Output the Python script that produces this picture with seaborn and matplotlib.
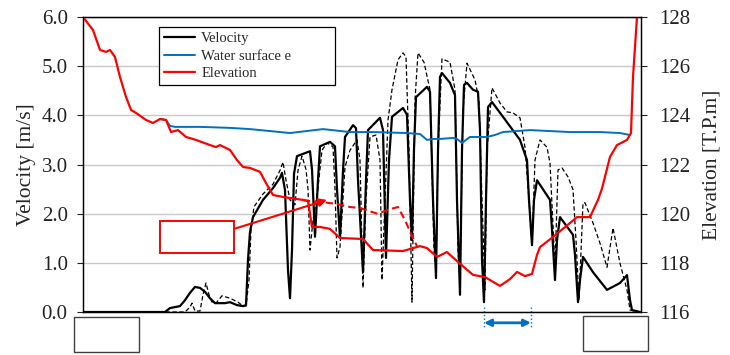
import matplotlib
matplotlib.use("Agg")
import matplotlib.pyplot as plt
import seaborn as sns
import pandas as pd
from matplotlib.patches import Rectangle
from matplotlib.lines import Line2D

sns.set_style("ticks")
plt.rcParams['font.family'] = ['Liberation Serif', 'DejaVu Serif']

# ---- data (x: relative position along channel) ----
vel_x = [0, 82, 87, 92, 97, 102, 107, 112, 117, 122, 127, 132, 137, 142, 147, 154, 160, 163,
         165, 167, 170, 180, 190, 197, 199, 202, 205, 207, 209, 211, 214, 227, 229, 232, 235,
         237, 247, 252, 254, 257, 260, 262, 270, 273, 275, 280, 283, 285, 297, 300, 303, 306,
         309, 320, 324, 327, 329, 331, 333, 344, 347, 350, 353, 355, 357, 359, 367, 372, 374,
         377, 379, 381, 384, 390, 395, 397, 399, 401, 403, 405, 409, 420, 437, 444, 446, 449,
         451, 454, 467, 469, 472, 474, 477, 490, 492, 495, 497, 500, 510, 524, 537, 544, 547,
         549, 557]
vel = [0, 0, 0.08, 0.10, 0.12, 0.24, 0.39, 0.51, 0.49, 0.41, 0.28, 0.18, 0.18, 0.18, 0.20,
       0.14, 0.12, 0.14, 1.06, 1.63, 1.93, 2.28, 2.52, 2.73, 2.83, 2.48, 0.85, 0.28, 1.26, 2.81,
       3.17, 3.27, 2.90, 1.53, 2.68, 3.37, 3.46, 3.37, 2.50, 1.51, 2.87, 3.56, 3.80, 3.74, 2.68,
       0.81, 2.68, 3.70, 3.95, 3.70, 1.10, 3.09, 3.97, 4.15, 4.01, 2.28, 1.46, 3.31, 4.37, 4.58,
       4.48, 2.28, 0.69, 3.29, 4.78, 4.86, 4.66, 4.41, 2.28, 0.35, 3.29, 4.62, 4.66, 4.52, 4.48,
       3.70, 1.06, 0.20, 2.28, 4.17, 4.27, 3.97, 3.50, 3.09, 2.28, 1.36, 2.28, 2.68, 2.28, 1.68,
       0.65, 1.46, 1.93, 1.57, 1.16, 0.20, 0.65, 1.12, 0.81, 0.45, 0.59, 0.75, 0.24, 0.04, 0]

vel2_x = [0, 102, 107, 109, 112, 117, 120, 123, 126, 129, 133, 139, 147, 155, 160, 163, 166,
          168, 171, 180, 190, 197, 200, 203, 207, 212, 215, 219, 223, 225, 227, 230, 234, 239,
          244, 250, 252, 254, 257, 262, 267, 274, 277, 280, 283, 287, 293, 297, 299, 302, 305,
          309, 315, 320, 323, 326, 329, 332, 335, 341, 347, 351, 353, 355, 359, 367, 372, 375,
          377, 380, 384, 392, 396, 399, 402, 404, 409, 417, 424, 430, 437, 442, 447, 449, 452,
          457, 464, 467, 472, 475, 479, 485, 490, 493, 496, 500, 502, 510, 517, 524, 530, 537,
          544, 547, 557]
vel2 = [0, 0, 0.10, 0.18, 0.02, 0.02, 0.35, 0.59, 0.35, 0.20, 0.18, 0.33, 0.28, 0.20, 0.12,
        0.12, 0.65, 1.67, 2.14, 2.40, 2.60, 2.88, 3.05, 2.68, 2.28, 2.18, 2.88, 3.17, 2.90, 2.50,
        1.26, 1.87, 2.34, 3.29, 3.44, 3.36, 2.50, 1.10, 1.32, 2.95, 3.29, 3.50, 3.09, 0.49, 2.28,
        3.56, 3.60, 3.09, 0.65, 2.28, 3.90, 4.52, 5.13, 5.27, 5.19, 3.29, 0.20, 4.31, 5.27, 5.08,
        4.52, 1.26, 0.85, 3.29, 5.15, 5.08, 4.52, 1.26, 0.65, 4.11, 5.06, 4.72, 4.31, 2.28, 0.45,
        3.29, 4.56, 4.25, 4.07, 4.05, 3.95, 3.35, 2.01, 1.36, 3.09, 3.50, 3.35, 3.03, 0.91, 2.89,
        2.93, 2.75, 2.49, 1.46, 0.24, 2.22, 2.22, 1.81, 1.40, 0.91, 1.71, 0.99, 0.45, 0.04, 0]

elev_x = [0, 10, 17, 23, 27, 32, 37, 43, 48, 53, 63, 70, 77, 83, 88, 95, 103, 113, 127, 133,
          137, 147, 154, 160, 167, 177, 184, 190, 200, 220, 225, 229, 237, 247, 257, 280, 290,
          320, 337, 344, 354, 364, 374, 390, 402, 417, 427, 434, 442, 449, 454, 457, 470, 487,
          494, 507, 515, 519, 527, 534, 544, 548, 550, 554]
elev = [128.00, 127.47, 126.66, 126.58, 126.66, 126.37, 125.56, 124.75, 124.22, 124.10, 123.81,
        123.69, 123.85, 123.81, 123.32, 123.40, 123.12, 123.00, 122.79, 122.71, 122.79, 122.59,
        122.18, 121.90, 121.86, 121.70, 121.17, 120.76, 120.68, 120.56, 120.52, 119.46, 119.46,
        119.38, 119.01, 118.97, 118.52, 118.48, 118.68, 118.60, 118.24, 118.44, 118.07, 117.51,
        117.42, 117.06, 117.34, 117.63, 117.46, 117.55, 118.32, 118.64, 119.05, 119.62, 119.86,
        119.86, 120.56, 121.02, 122.31, 122.79, 123.00, 123.28, 125.56, 128.00]

elev_old_x = [220, 224, 240, 254, 267, 277, 295, 304, 315, 322, 329, 334]
elev_old = [120.56, 120.52, 120.47, 120.39, 120.27, 120.23, 119.99, 120.15, 120.27, 119.74,
            119.09, 118.68]

wse_x = [77, 83, 87, 92, 117, 147, 167, 187, 207, 240, 267, 290, 324, 337, 344, 350, 357, 370,
         374, 379, 387, 404, 412, 420, 447, 467, 487, 517, 537, 547]
wse = [123.85, 123.81, 123.57, 123.53, 123.53, 123.49, 123.44, 123.36, 123.28, 123.44, 123.32,
       123.32, 123.28, 123.24, 123.00, 123.04, 123.04, 123.08, 123.04, 122.88, 123.12, 123.12,
       123.20, 123.32, 123.40, 123.36, 123.32, 123.32, 123.28, 123.20]

vel_ticks = [0, 1, 2, 3, 4, 5, 6]
elev_ticks = [116, 118, 120, 122, 124, 126, 128]
legend_labels = ["Velocity", "Water surface e", "Elevation"]

# ---- figure ----
fig = plt.figure(figsize=(7.3, 3.55), dpi=100)
ax = fig.add_axes([83 / 730, 43 / 355, 558 / 730, 295 / 355])
ax2 = ax.twinx()

df_v = pd.DataFrame({"x": vel_x, "v": vel})
df_v2 = pd.DataFrame({"x": vel2_x, "v": vel2})
df_e = pd.DataFrame({"x": elev_x, "e": elev})
df_eo = pd.DataFrame({"x": elev_old_x, "e": elev_old})
df_w = pd.DataFrame({"x": wse_x, "e": wse})

sns.lineplot(data=df_v2, x="x", y="v", ax=ax, color="black", lw=0.9, linestyle=(0, (3.5, 2)),
             estimator=None, sort=False)
sns.lineplot(data=df_v, x="x", y="v", ax=ax, color="black", lw=1.6, estimator=None, sort=False,
             legend=False)

sns.lineplot(data=df_w, x="x", y="e", ax=ax2, color="#0070C0", lw=1.4, estimator=None,
             sort=False, legend=False)
sns.lineplot(data=df_eo, x="x", y="e", ax=ax2, color="#FF0000", lw=1.5, linestyle=(0, (3.5, 2)),
             estimator=None, sort=False, legend=False)
sns.lineplot(data=df_e, x="x", y="e", ax=ax2, color="#FF0000", lw=1.6, estimator=None,
             sort=False, legend=False)

ax.set_xlim(0, 558)
ax.set_ylim(0, 6)
ax2.set_ylim(116, 128)
ax.set_xticks([])
ax.set_xlabel("")
ax2.set_xlabel("")
ax.set_yticks(vel_ticks)
ax.set_yticklabels([f"{t:.1f}" for t in vel_ticks])
ax2.set_yticks(elev_ticks)
ax2.set_yticklabels([str(t) for t in elev_ticks])
ax.tick_params(axis="y", direction="out", length=4, width=0.8, labelsize=15, colors="#222222",
               pad=7)
ax2.tick_params(axis="y", direction="out", length=4, width=0.8, labelsize=15, colors="#222222",
                pad=9)
for a in (ax, ax2):
    for s in a.spines.values():
        s.set_visible(True)
        s.set_color("black")
        s.set_linewidth(0.9)
ax.set_ylabel("Velocity [m/s]", fontsize=15.5, labelpad=4)
ax2.set_ylabel("Elevation [T.P.m]", fontsize=15.5, labelpad=9)

ax.yaxis.grid(True, color="#C8C8C8", lw=1.0)
ax.set_axisbelow(True)

# legend
handles = [Line2D([], [], color="black", lw=1.6),
           Line2D([], [], color="#0070C0", lw=1.4),
           Line2D([], [], color="#FF0000", lw=1.6)]
leg = ax2.legend(handles, legend_labels,
                 bbox_to_anchor=(0.136, 0.766, 0.316, 0.2), loc="upper left", mode="expand",
                 fontsize=10.5, frameon=True, fancybox=False, framealpha=1, edgecolor="black",
                 handlelength=2.1, handletextpad=0.45, borderpad=0.35, labelspacing=0.28,
                 borderaxespad=0)
leg.get_frame().set_linewidth(0.9)

# annotation rectangle and arrow
ax.add_patch(Rectangle((77, 1.20), 74, 0.65, fill=False, edgecolor="#FF0000", lw=1.4, zorder=5))
ax.annotate("", xy=(244, 2.28), xytext=(151, 1.69),
            arrowprops=dict(arrowstyle="-|>", color="#FF0000", lw=1.5, mutation_scale=12,
                            shrinkA=0, shrinkB=0), zorder=5)

# blue double arrow below the axis
ax.annotate("", xy=(401, -0.22), xytext=(448, -0.22), annotation_clip=False,
            arrowprops=dict(arrowstyle="<|-|>", color="#0070C0", lw=2, mutation_scale=10,
                            shrinkA=0, shrinkB=0))
for xx in (401, 448):
    ax.plot([xx, xx], [0.1, -0.33], color="#0070C0", lw=1, linestyle=":", clip_on=False)

# boxes below the axis
fig.patches.append(Rectangle((74 / 730, 3 / 355), 65 / 730, 35 / 355, transform=fig.transFigure,
                             facecolor="white", edgecolor="#404040", lw=1))
fig.patches.append(Rectangle((583 / 730, 4 / 355), 65 / 730, 35 / 355, transform=fig.transFigure,
                             facecolor="white", edgecolor="#404040", lw=1))

fig.savefig("out.png", dpi=100)
